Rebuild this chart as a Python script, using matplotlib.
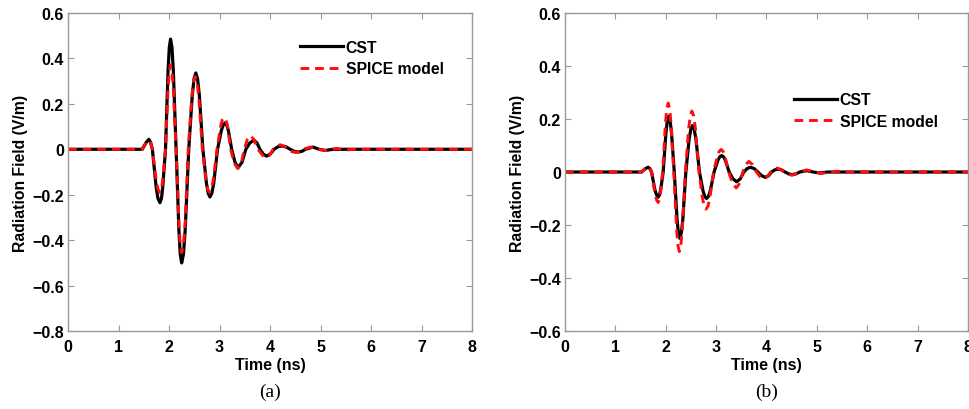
# Radiation field waveforms: CST vs SPICE model, panels (a) and (b)

import matplotlib
matplotlib.use('Agg')
import matplotlib.pyplot as plt

# Panel (a) (time in ns, field in V/m)
t_a_cst = [0, 1.47, 1.55, 1.60, 1.635, 1.67,
           1.745, 1.78, 1.82, 1.85, 1.875, 1.93,
           1.98, 2.005, 2.03, 2.058, 2.085, 2.14,
           2.195, 2.222, 2.25, 2.285, 2.32, 2.39,
           2.46, 2.495, 2.53, 2.565, 2.60, 2.67,
           2.74, 2.775, 2.81, 2.848, 2.885, 2.96,
           3.035, 3.072, 3.11, 3.142, 3.175, 3.24,
           3.305, 3.37, 3.445, 3.52,
           3.60, 3.68, 3.74, 3.80,
           3.865, 3.93, 4.005, 4.08,
           4.155, 4.23, 4.315, 4.40,
           4.48, 4.56, 4.63, 4.70,
           4.85, 4.97, 5.09, 5.25, 8.0]
v_a_cst = [0, 0, 0.031, 0.044, 0.031, 0,
           -0.167, -0.216, -0.235, -0.216, -0.167, 0,
           0.345, 0.448, 0.485, 0.448, 0.345, 0,
           -0.355, -0.462, -0.50, -0.462, -0.355, 0,
           0.238, 0.31, 0.336, 0.31, 0.238, 0,
           -0.149, -0.193, -0.21, -0.193, -0.149, 0,
           0.082, 0.107, 0.116, 0.107, 0.082, 0,
           -0.057, -0.08, -0.057, 0,
           0.028, 0.04, 0.028, 0,
           -0.021, -0.03, -0.021, 0,
           0.011, 0.015, 0.011, 0,
           -0.009, -0.012, -0.009, 0,
           0.01, 0, -0.005, 0, 0]

t_a_spice = [0, 1.47, 1.55, 1.60, 1.635, 1.67,
             1.745, 1.78, 1.82, 1.85, 1.875, 1.93,
             1.98, 2.005, 2.03, 2.058, 2.085, 2.14,
             2.195, 2.222, 2.25, 2.285, 2.32, 2.38,
             2.45, 2.485, 2.52, 2.555, 2.59, 2.66,
             2.73, 2.765, 2.80, 2.838, 2.875, 2.95,
             3.02, 3.055, 3.09, 3.125, 3.16, 3.22,
             3.29, 3.36, 3.43, 3.49,
             3.55, 3.61, 3.68, 3.76,
             3.85, 3.92, 3.99, 4.06,
             4.13, 4.20, 4.28, 4.36,
             4.43, 4.51, 4.59, 4.66,
             4.80, 4.95, 5.10, 5.22, 5.32, 5.42, 5.52, 5.65, 8.0]
v_a_spice = [0, 0, 0.028, 0.04, 0.028, 0,
             -0.135, -0.175, -0.19, -0.175, -0.135, 0,
             0.265, 0.343, 0.372, 0.343, 0.265, 0,
             -0.322, -0.42, -0.455, -0.42, -0.322, 0,
             0.228, 0.296, 0.32, 0.296, 0.228, 0,
             -0.135, -0.176, -0.19, -0.176, -0.135, 0,
             0.1, 0.13, 0.14, 0.13, 0.1, 0,
             -0.06, -0.085, -0.06, 0,
             0.043, 0.06, 0.043, 0,
             -0.026, -0.037, -0.026, 0,
             0.014, 0.02, 0.014, 0,
             -0.01, -0.014, -0.01, 0,
             0.01, 0, -0.006, 0, 0.004, 0, -0.003, 0, 0]

# Panel (b)
t_b_cst = [0, 1.52, 1.60, 1.65, 1.685, 1.72,
           1.785, 1.82, 1.85, 1.875, 1.90, 1.95,
           2.005, 2.032, 2.06, 2.087, 2.115, 2.17,
           2.225, 2.252, 2.28, 2.31, 2.34, 2.40,
           2.465, 2.498, 2.53, 2.565, 2.60, 2.67,
           2.74, 2.775, 2.81, 2.848, 2.885, 2.96,
           3.035, 3.072, 3.11, 3.148, 3.185, 3.26,
           3.335, 3.41, 3.48, 3.55,
           3.615, 3.68, 3.755, 3.83,
           3.905, 3.98, 4.04, 4.10,
           4.165, 4.23, 4.30, 4.37,
           4.44, 4.51, 4.585, 4.66,
           4.80, 4.93, 5.06, 5.20, 8.0]
v_b_cst = [0, 0, 0.013, 0.018, 0.013, 0,
           -0.067, -0.087, -0.095, -0.087, -0.067, 0,
           0.149, 0.193, 0.21, 0.193, 0.149, 0,
           -0.178, -0.23, -0.25, -0.23, -0.178, 0,
           0.124, 0.161, 0.175, 0.161, 0.124, 0,
           -0.071, -0.092, -0.10, -0.092, -0.071, 0,
           0.044, 0.057, 0.062, 0.057, 0.044, 0,
           -0.026, -0.037, -0.026, 0,
           0.013, 0.018, 0.013, 0,
           -0.014, -0.02, -0.014, 0,
           0.008, 0.011, 0.008, 0,
           -0.007, -0.01, -0.007, 0,
           0.005, 0, -0.004, 0, 0]

t_b_spice = [0, 1.52, 1.60, 1.65, 1.685, 1.72,
             1.785, 1.82, 1.85, 1.872, 1.895, 1.94,
             1.995, 2.022, 2.05, 2.078, 2.105, 2.16,
             2.215, 2.242, 2.27, 2.30, 2.33, 2.39,
             2.455, 2.488, 2.52, 2.555, 2.59, 2.66,
             2.73, 2.765, 2.80, 2.838, 2.875, 2.95,
             3.025, 3.062, 3.10, 3.138, 3.175, 3.25,
             3.325, 3.40, 3.465, 3.53,
             3.59, 3.65, 3.725, 3.80,
             3.875, 3.95, 4.015, 4.08,
             4.14, 4.20, 4.275, 4.35,
             4.425, 4.50, 4.575, 4.65,
             4.80, 4.95, 5.10, 5.25, 5.40, 5.55, 8.0]
v_b_spice = [0, 0, 0.014, 0.02, 0.014, 0,
             -0.081, -0.106, -0.115, -0.106, -0.081, 0,
             0.184, 0.24, 0.26, 0.24, 0.184, 0,
             -0.213, -0.277, -0.30, -0.277, -0.213, 0,
             0.163, 0.212, 0.23, 0.212, 0.163, 0,
             -0.099, -0.129, -0.14, -0.129, -0.099, 0,
             0.06, 0.078, 0.085, 0.078, 0.06, 0,
             -0.043, -0.06, -0.043, 0,
             0.028, 0.04, 0.028, 0,
             -0.018, -0.025, -0.018, 0,
             0.011, 0.015, 0.011, 0,
             -0.008, -0.012, -0.008, 0,
             0.008, 0, -0.005, 0, 0.003, 0, 0]

x_ticks = [0, 1, 2, 3, 4, 5, 6, 7, 8]
y_ticks_a = [-0.8, -0.6, -0.4, -0.2, 0, 0.2, 0.4, 0.6]
y_ticks_b = [-0.6, -0.4, -0.2, 0, 0.2, 0.4, 0.6]

plt.rcParams['font.family'] = ['Liberation Sans', 'DejaVu Sans']
plt.rcParams['font.weight'] = 'bold'

fig = plt.figure(figsize=(9.69, 4.10), dpi=100)
ax_a = fig.add_axes([0.0702, 0.190, 0.417, 0.776])
ax_b = fig.add_axes([0.583, 0.190, 0.416, 0.776])

panels = [
    (ax_a, t_a_cst, v_a_cst, t_a_spice, v_a_spice, y_ticks_a, (0.965, 0.96), '(a)'),
    (ax_b, t_b_cst, v_b_cst, t_b_spice, v_b_spice, y_ticks_b, (0.96, 0.795), '(b)'),
]

for ax, tc, vc, ts, vs, yt, leg_pos, tag in panels:
    ax.plot(tc, vc, color='black', linewidth=2.3, label='CST')
    ax.plot(ts, vs, color='#ff0d0d', linewidth=2.1, linestyle=(0, (3, 2)),
            label='SPICE model')
    ax.set_xlim(0, 8)
    ax.set_ylim(yt[0], yt[-1])
    ax.set_xticks(x_ticks)
    ax.set_yticks(yt)
    ax.set_xticklabels([str(v) for v in x_ticks])
    ax.set_yticklabels(['0' if v == 0 else f'{v:.1f}'.replace('-', '\u2212') for v in yt])
    ax.tick_params(direction='in', top=True, right=True, length=4, width=0.8,
                   color='#999999', labelsize=11.5, pad=3)
    ax.tick_params(axis='x', pad=6)
    for s in ax.spines.values():
        s.set_color('#999999')
        s.set_linewidth(1.0)
    ax.set_xlabel('Time (ns)', fontsize=11.5, fontweight='bold', labelpad=2)
    ax.set_ylabel('Radiation Field (V/m)', fontsize=11.3, fontweight='bold', labelpad=3)
    ax.legend(loc='upper right', bbox_to_anchor=leg_pos, frameon=False,
              fontsize=11.3, handlelength=2.7, handletextpad=0.2, labelspacing=0.4)
    ax.text(0.5, -0.19, tag, transform=ax.transAxes, ha='center', va='center',
            fontsize=14, fontweight='normal', family=['Liberation Serif', 'DejaVu Serif'])

fig.savefig('out.png', dpi=100)
